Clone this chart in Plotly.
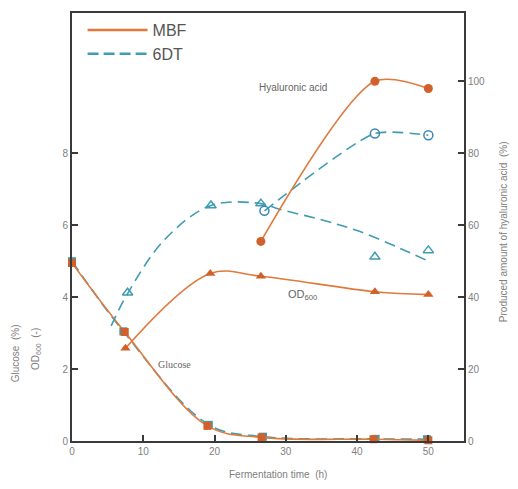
import plotly.graph_objects as go

# ---- data ----
# Glucose (%) markers
glc_t_mbf = [0, 7.4, 19.0, 26.6, 42.3, 50.0]
glc_mbf = [4.95, 3.03, 0.42, 0.10, 0.05, 0.02]
glc_t_6dt = [0, 7.2, 19.2, 26.8, 42.6, 49.8]
glc_6dt = [5.0, 3.05, 0.45, 0.12, 0.06, 0.05]

# OD600 markers
od_t_mbf = [7.5, 19.4, 26.5, 42.5, 50.0]
od_mbf = [2.58, 4.66, 4.58, 4.15, 4.07]
od_t_6dt = [7.8, 19.5, 26.5, 42.5, 50.0]
od_6dt = [4.12, 6.55, 6.6, 5.12, 5.3]
# 6DT OD600 fitted curve
od_fit_t_6dt = [5.5, 7.8, 13.0, 19.5, 26.5, 29.0, 35.0, 40.0, 46.0, 50.0]
od_fit_6dt = [3.2, 4.1, 5.6, 6.55, 6.6, 6.45, 6.15, 5.85, 5.36, 5.0]

# Produced amount of hyaluronic acid (%)
ha_t_mbf = [26.5, 42.5, 50.0]
ha_mbf = [55.5, 100.0, 98.0]
ha_t_6dt = [27.0, 42.5, 50.0]
ha_6dt = [64.0, 85.5, 85.0]

x_ticks = [0, 10, 20, 30, 40, 50]
y_left_ticks = [0, 2, 4, 6, 8]
y_right_ticks = [0, 20, 40, 60, 80, 100]

ORANGE = "#df7a3c"
ORANGE_D = "#d2602a"
TEAL = "#3f9cb2"
BLUE = "#3d86b8"
AXC = "#3a3a3a"
TXT = "#808080"
DASH = "11px,6px"

fig = go.Figure()

# Glucose
fig.add_trace(go.Scatter(x=glc_t_6dt, y=glc_6dt, mode="lines+markers",
                         line=dict(color=TEAL, width=1.6, dash=DASH, shape="spline"),
                         marker=dict(symbol="square", size=8, color=TEAL),
                         showlegend=False, cliponaxis=False))
fig.add_trace(go.Scatter(x=glc_t_mbf, y=glc_mbf, mode="lines+markers",
                         line=dict(color=ORANGE, width=1.6, shape="spline"),
                         marker=dict(symbol="square", size=8, color=ORANGE_D),
                         showlegend=False, cliponaxis=False))

# OD600
fig.add_trace(go.Scatter(x=od_fit_t_6dt, y=od_fit_6dt, mode="lines",
                         line=dict(color=TEAL, width=1.6, dash=DASH, shape="spline"),
                         showlegend=False))
fig.add_trace(go.Scatter(x=od_t_6dt, y=od_6dt, mode="markers",
                         marker=dict(symbol="triangle-up-open", size=9, color=TEAL,
                                     line=dict(width=1.5)),
                         showlegend=False))
fig.add_trace(go.Scatter(x=od_t_mbf, y=od_mbf, mode="lines+markers",
                         line=dict(color=ORANGE, width=1.6, shape="spline"),
                         marker=dict(symbol="triangle-up", size=9, color=ORANGE_D),
                         showlegend=False))

# Hyaluronic acid (right axis)
fig.add_trace(go.Scatter(x=ha_t_6dt, y=ha_6dt, mode="lines+markers", yaxis="y2",
                         line=dict(color=TEAL, width=1.6, dash=DASH, shape="spline",
                                   smoothing=0.6),
                         marker=dict(symbol="circle-open", size=9, color=BLUE,
                                     line=dict(width=1.5)),
                         showlegend=False))
fig.add_trace(go.Scatter(x=ha_t_mbf, y=ha_mbf, mode="lines+markers", yaxis="y2",
                         line=dict(color=ORANGE, width=1.6, shape="spline",
                                   smoothing=0.8),
                         marker=dict(symbol="circle", size=9, color=ORANGE_D),
                         showlegend=False))

# Legend entries
fig.add_trace(go.Scatter(x=[None], y=[None], mode="lines", name="MBF",
                         line=dict(color=ORANGE, width=2.5)))
fig.add_trace(go.Scatter(x=[None], y=[None], mode="lines", name="6DT",
                         line=dict(color=TEAL, width=2.5, dash="11px,5px")))

axis_common = dict(showline=True, linecolor=AXC, linewidth=2, ticks="inside",
                   ticklen=6, tickwidth=2, tickcolor=AXC, showgrid=False,
                   zeroline=False, tickfont=dict(size=10, color=TXT,
                                                 family="Liberation Sans"))

# page body adds an 8px margin; figure is sized/margined to compensate
fig.update_layout(
    width=510, height=481,
    margin=dict(l=64, r=54, t=5, b=48, autoexpand=False),
    plot_bgcolor="white", paper_bgcolor="white",
    xaxis=dict(range=[0, 55], tickvals=x_ticks, mirror=True, **axis_common),
    yaxis=dict(range=[0, 11.9], tickvals=y_left_ticks, **axis_common),
    yaxis2=dict(range=[0, 119], tickvals=y_right_ticks, overlaying="y", side="right",
                **axis_common),
    legend=dict(x=0.027, y=1.0, xanchor="left", yanchor="top",
                bgcolor="rgba(0,0,0,0)", font=dict(size=16, color="#555555",
                                                   family="Liberation Sans"),
                itemwidth=60, tracegroupgap=0),
    font=dict(family="Liberation Sans", color=TXT),
    annotations=[
        dict(text="Hyaluronic acid", x=31.0, y=9.83, xref="x", yref="y",
             showarrow=False, font=dict(size=10, color="#666666")),
        dict(text="OD<sub>600</sub>", x=32.4, y=4.05, xref="x", yref="y",
             showarrow=False, font=dict(size=11, color="#666666")),
        dict(text="Glucose", x=14.4, y=2.14, xref="x", yref="y",
             showarrow=False, font=dict(size=10, color="#666666",
                                        family="Liberation Serif")),
        dict(text="Fermentation time  (h)", x=0.526, y=0, xref="paper", yref="paper",
             yshift=-41, showarrow=False, font=dict(size=10, color=TXT)),
        dict(text="Glucose  (%)", x=0, y=0.205,
             xref="paper", yref="paper", xshift=-57, xanchor="center",
             yanchor="middle", textangle=-90,
             showarrow=False, font=dict(size=10, color=TXT)),
        dict(text="OD<sub>600</sub>  (-)", x=0, y=0.215,
             xref="paper", yref="paper", xshift=-36, xanchor="center",
             yanchor="middle", textangle=-90,
             showarrow=False, font=dict(size=10, color=TXT)),
        dict(text="Produced amount of hyaluronic acid  (%)", x=1, y=0.488,
             xref="paper", yref="paper", xshift=39, xanchor="center",
             yanchor="middle", textangle=-90,
             showarrow=False, font=dict(size=10, color=TXT)),
    ],
)

fig.write_html("out.html")
